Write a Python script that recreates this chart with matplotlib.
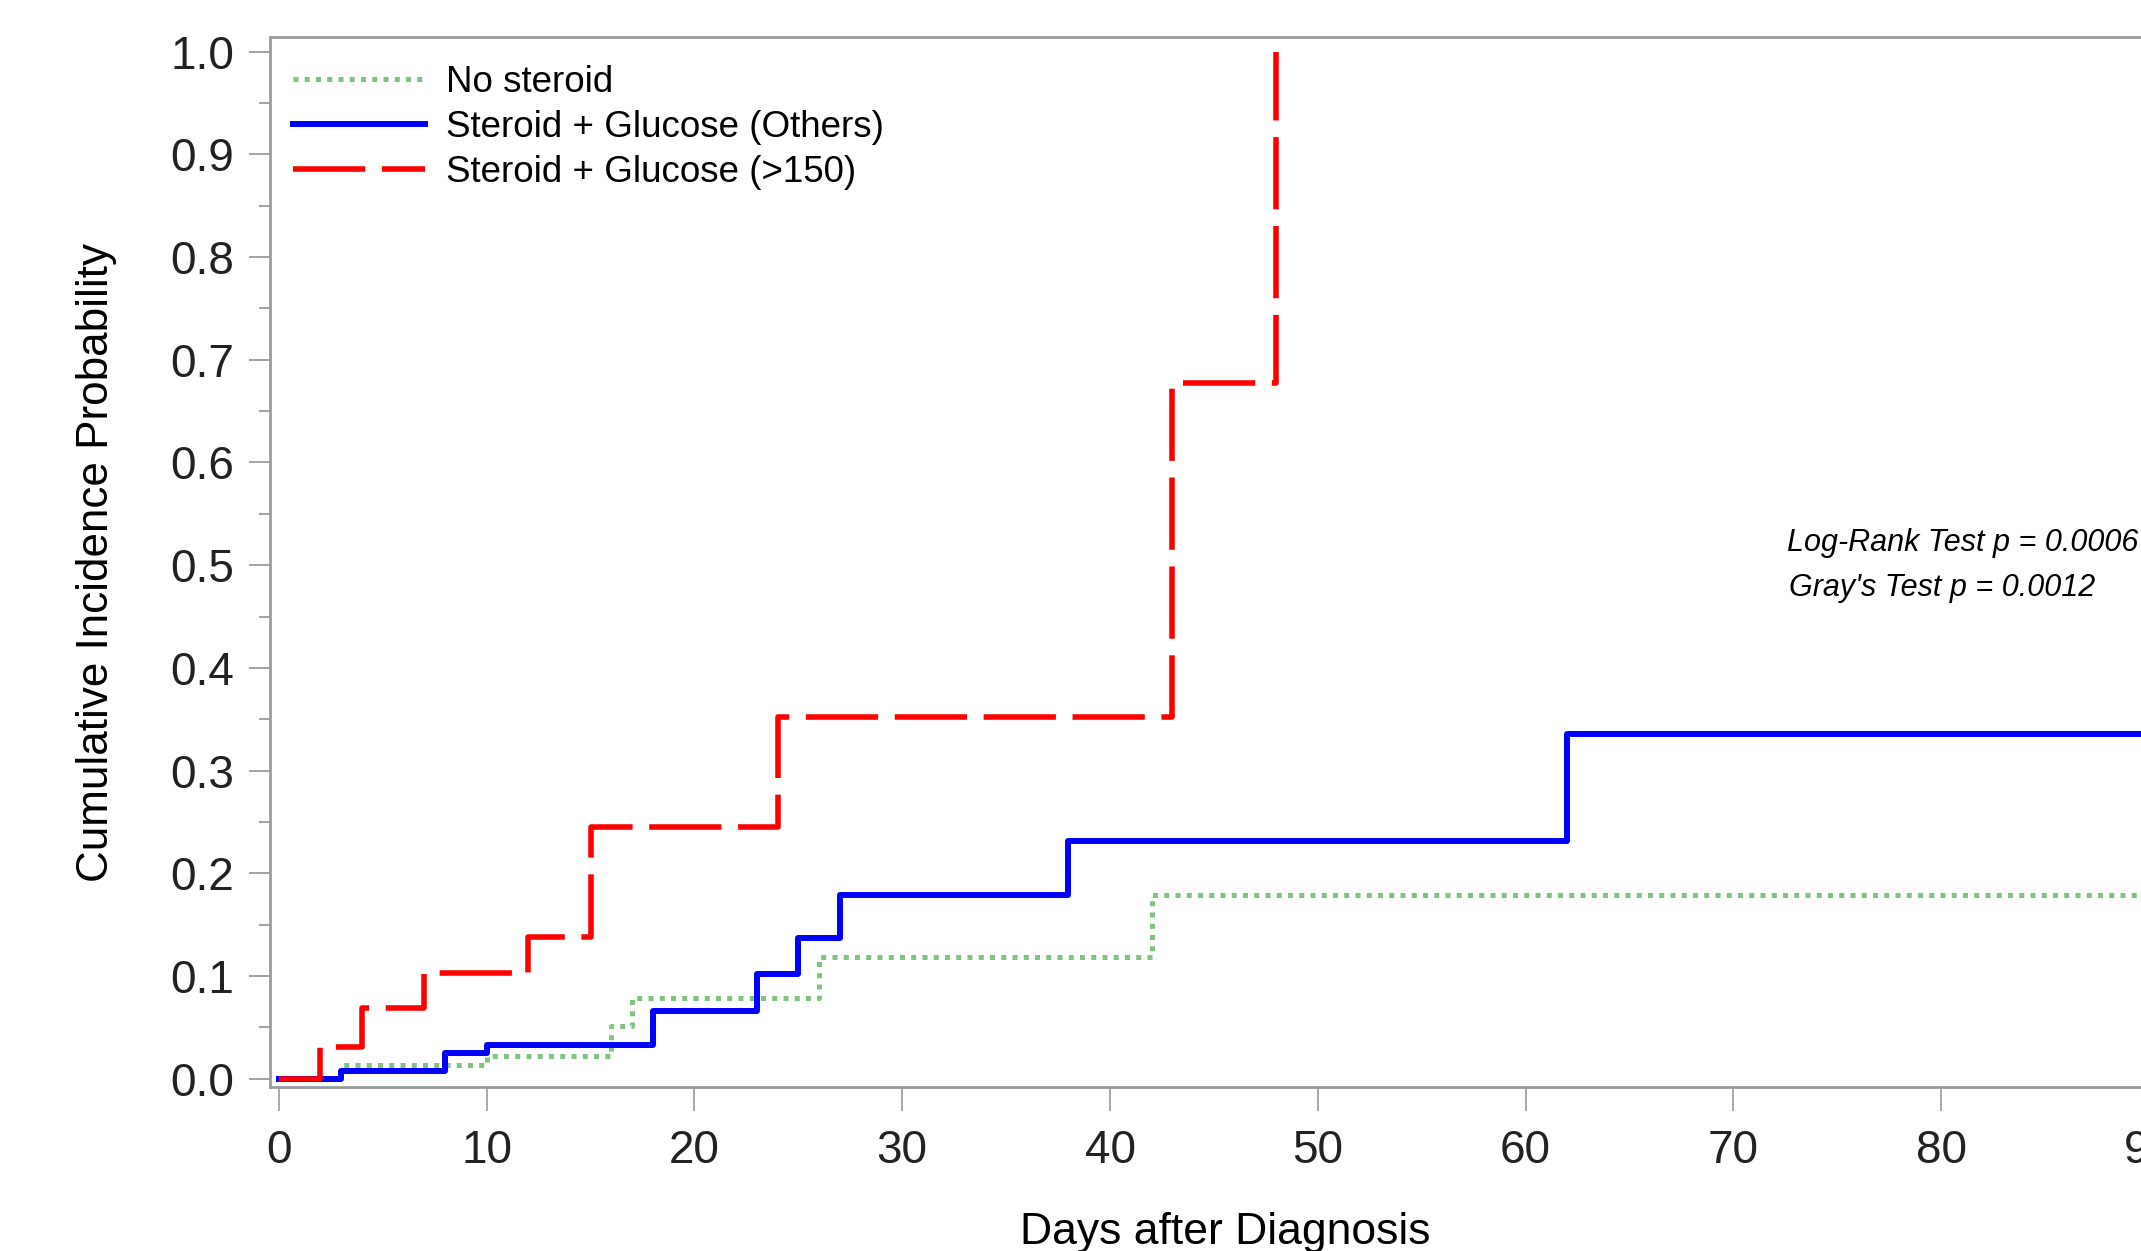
import matplotlib
matplotlib.use("Agg")
import matplotlib.pyplot as plt
from matplotlib.ticker import MultipleLocator

# cumulative incidence step curves (days, probability)
end_day = 100
no_steroid_t = [0, 3, 10, 16, 17, 26, 42, end_day]
no_steroid_y = [0.0, 0.013, 0.022, 0.051, 0.079, 0.118, 0.179, 0.179]

others_t = [0, 3, 8, 10, 18, 23, 25, 27, 38, 62, end_day]
others_y = [0.0, 0.007, 0.025, 0.033, 0.066, 0.102, 0.137, 0.179, 0.231, 0.336, 0.336]

high_t = [0, 2, 4, 7, 12, 15, 24, 43, 48]
high_y = [0.0, 0.031, 0.069, 0.103, 0.138, 0.245, 0.352, 0.677, 1.0]

labels = ["No steroid", "Steroid + Glucose (Others)", "Steroid + Glucose (>150)"]
x_ticks = list(range(0, 100, 10))
stats = ["Log-Rank Test p = 0.0006", "Gray's Test p = 0.0012"]

axis_grey = "#989ca0"
narrow = ["Liberation Sans Narrow", "Liberation Sans", "DejaVu Sans"]
plt.rcParams["font.family"] = ["Liberation Sans", "DejaVu Sans"]

fig = plt.figure(figsize=(21.41, 12.51), dpi=100)
ax = fig.add_axes([270 / 2141, 164 / 1251, 1910 / 2141, 1050 / 1251])

ax.step(no_steroid_t, no_steroid_y, where="post", color="#80c482", lw=3.6,
        linestyle=(0, (1.0, 1.25)), label=labels[0])
ax.step(others_t, others_y, where="post", color="#0000ff", lw=4.3,
        label=labels[1])
ax.step(high_t, high_y, where="post", color="#ff0000", lw=4.0,
        linestyle=(0, (13, 3)), label=labels[2])

ax.set_xlim(-0.43, 91.5)
ax.set_ylim(-0.0081, 1.0143)

ax.set_xticks(x_ticks)
ax.yaxis.set_major_locator(MultipleLocator(0.1))
ax.yaxis.set_minor_locator(MultipleLocator(0.05))
ax.yaxis.set_major_formatter(plt.FuncFormatter(lambda v, p: f"{v:.1f}"))

for sp in ax.spines.values():
    sp.set_color(axis_grey)
    sp.set_linewidth(2.0)

ax.tick_params(axis="x", which="major", length=17, width=1.2, color=axis_grey,
               pad=13, labelsize=33, labelcolor="#222222")
ax.tick_params(axis="y", which="major", length=15, width=1.3, color=axis_grey,
               pad=10.8, labelsize=33, labelcolor="#222222")
ax.tick_params(axis="y", which="minor", length=8, width=1.3, color=axis_grey)
for lab in ax.get_xticklabels() + ax.get_yticklabels():
    lab.set_family(narrow)

ax.set_xlabel("Days after Diagnosis", fontsize=32, color="black")
ax.set_ylabel("Cumulative Incidence Probability", fontsize=31.7, color="black")
ax.xaxis.set_label_coords(0.5, -0.119)
ax.xaxis.label.set_va("top")
ax.yaxis.set_label_coords(-0.080, 0.5)

leg = ax.legend(loc="upper left", bbox_to_anchor=(0.012, 0.9735), frameon=False,
                fontsize=26.5, handlelength=3.6, handletextpad=0.55,
                labelspacing=0.27, borderpad=0, borderaxespad=0)

ax.text(72.6, 0.514, stats[0], fontsize=22, style="italic", va="baseline")
ax.text(72.7, 0.470, stats[1], fontsize=22, style="italic", va="baseline")

fig.savefig("out.png", dpi=100)
